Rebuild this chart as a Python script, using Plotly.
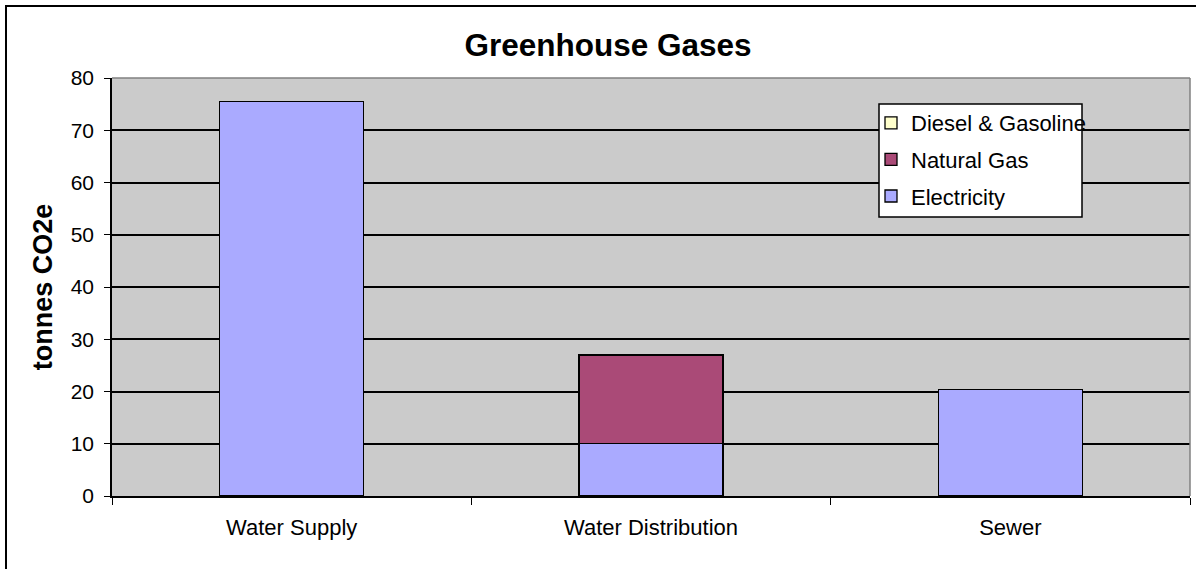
import plotly.graph_objects as go

categories = ["Water Supply", "Water Distribution", "Sewer"]
electricity = [75.5, 10.1, 20.4]
natural_gas = [0, 16.9, 0]
diesel = [0, 0, 0]
y_ticks = [0, 10, 20, 30, 40, 50, 60, 70, 80]

fig = go.Figure()
line = dict(color="black", width=1.3)
fig.add_trace(go.Bar(x=categories, y=electricity, name="Electricity", legendgroup="e",
                     legendrank=3, marker=dict(color="#AAAAFF", line=line)))
fig.add_trace(go.Bar(x=categories, y=natural_gas, name="Natural Gas", legendgroup="n",
                     legendrank=2, marker=dict(color="#AA4A77", line=line)))
fig.add_trace(go.Bar(x=categories, y=diesel, name="Diesel & Gasoline", legendgroup="d",
                     legendrank=1, marker=dict(color="#FFFFCC", line=line)))

L, R, T, B = 112, 6, 78, 73
W, H = 1196, 569
pw, ph = W - L - R, H - T - B

def px(x):
    return (x - L) / pw

def py(y):
    return (H - B - y) / ph

fig.update_layout(
    width=W, height=H,
    margin=dict(l=L, r=R, t=T, b=B, autoexpand=False),
    barmode="stack", bargap=0.6,
    paper_bgcolor="white", plot_bgcolor="#CBCBCB",
    font=dict(family="Liberation Sans, Arial, sans-serif", size=21, color="black"),
    title=dict(text="<b>Greenhouse Gases</b>", x=608 / W, xanchor="center",
               xref="container", y=1 - 45 / H, yanchor="middle",
               font=dict(size=31.5)),
    legend=dict(traceorder="grouped", x=px(871), y=py(102), xanchor="left", yanchor="top",
                bgcolor="rgba(0,0,0,0)", borderwidth=0,
                font=dict(size=22), itemwidth=30, tracegroupgap=5),
    showlegend=True,
    shapes=[
        dict(type="rect", xref="paper", yref="paper",
             x0=px(6), x1=px(1220), y0=py(600), y1=py(6),
             line=dict(color="black", width=2), fillcolor="rgba(0,0,0,0)", layer="below"),
        dict(type="line", xref="paper", yref="paper", x0=0, x1=1, y0=1, y1=1,
             line=dict(color="#808080", width=1.5)),
        dict(type="line", xref="paper", yref="paper", x0=1, x1=1, y0=0, y1=1,
             line=dict(color="#808080", width=1.5)),
        dict(type="rect", xref="paper", yref="paper",
             x0=px(879), x1=px(1082), y0=py(217), y1=py(104),
             line=dict(color="black", width=1.5), fillcolor="white", layer="above"),
    ],
)
fig.update_xaxes(showgrid=False, showline=True, linecolor="black", linewidth=1.5,
                 ticks="outside", tickson="boundaries", ticklen=7, tickcolor="black",
                 tickfont=dict(size=22), ticklabelstandoff=11)
fig.update_yaxes(range=[0, 80], tickvals=y_ticks, showgrid=True, gridcolor="black",
                 gridwidth=1.5, showline=True, linecolor="black", linewidth=1.5,
                 ticks="outside", ticklen=6, tickcolor="black", zeroline=False,
                 tickfont=dict(size=21), ticklabelstandoff=6,
                 title=dict(text="<b>tonnes CO2e</b>", font=dict(size=27), standoff=10))

fig.write_html("out.html", config={"displayModeBar": False},
               post_script="document.body.style.margin='0';")
